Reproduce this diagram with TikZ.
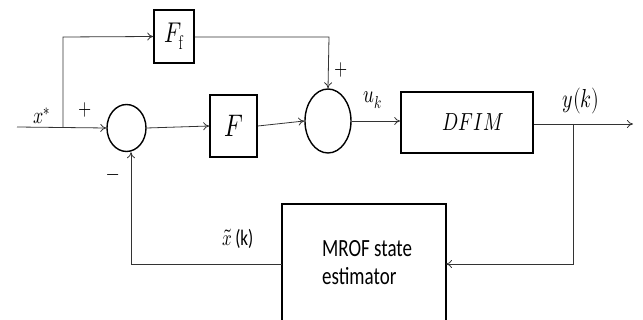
\documentclass[tikz,border=0pt]{standalone}
\usepackage{graphicx}
\usepackage{fontspec}
\usepackage{unicode-math}
\newfontfamily\calib{Carlito}
\usetikzlibrary{arrows.meta,shapes.geometric}
\newcommand{\vstr}[1]{\scalebox{1}[1.3]{#1}}
\begin{document}
\begin{tikzpicture}[x=1pt,y=-1pt,
  blk/.style={draw,line width=1.6pt,inner sep=0pt,minimum width=#1},
  sumnode/.style={draw,ellipse,line width=1.4pt,inner sep=0pt},
  conn/.style={line width=0.8pt,draw=black!80},
  arr/.style={conn,-{To[length=6pt,width=8pt]}},
  lbl/.style={inner sep=0pt}]
\useasboundingbox (0,0) rectangle (643,320);
% blocks
\node[blk=40pt,minimum height=53pt] (Ff) at (174,36.5) {\vstr{\fontsize{22}{22}\selectfont$F_{\mathrm{f}}$}};
\node[blk=47pt,minimum height=62pt] (F) at (233.5,126) {\vstr{\fontsize{24}{24}\selectfont$F$}};
\node[blk=132pt,minimum height=61pt] (D) at (467,122.5) {\hspace*{12pt}\vstr{\fontsize{19}{19}\selectfont$DFIM$}};
\draw[line width=1.6pt] (282,330) -- (282,204) -- (446,204) -- (446,330);
\coordinate (Ewest) at (282,264);
\coordinate (Eeast) at (446,264);
\node[inner sep=0pt,anchor=north west] (Etext) at (322,237) {\vstr{\calib\fontsize{19}{21.5}\selectfont\begin{tabular}{@{}l@{}}MROF state\\estimator\end{tabular}}};
% sums
\node[sumnode,minimum width=39pt,minimum height=47pt] (S1) at (126.5,128) {};
\node[sumnode,minimum width=46pt,minimum height=64pt] (S2) at (328,121) {};
% coordinates
\coordinate (in) at (17,127);
\coordinate (b1) at (63,127);
\coordinate (b1u) at (63,37);
\coordinate (c2) at (329,37);
\coordinate (out) at (633,124);
\coordinate (b2) at (573,124);
\coordinate (b2d) at (573,264);
\coordinate (fbk) at (131,264);
% connectors
\draw[arr] (in) -- (S1.west);
\draw[arr] (b1) -- (b1u) -- (Ff.west);
\draw[arr] (Ff.east |- b1u) -- (c2) -- (S2.north);
\draw[arr] (S1.east) -- (F.west);
\draw[arr] (F.east) -- (S2.west);
\draw[arr] (S2.east) -- (S2.east -| D.west);
\draw[arr] (D.east |- out) -- (out);
\draw[arr] (b2) -- (b2d) -- (Eeast);
\draw[arr] (Ewest) -- (fbk) -- (fbk |- S1.south);
% labels
\node[lbl] (lx) at (42,116) {\vstr{\fontsize{18}{18}\selectfont$x^{*}$}};
\node[lbl] (lp1) at (85,110) {\vstr{\fontsize{17}{17}\selectfont$+$}};
\node[lbl] (lp2) at (341,70) {\vstr{\fontsize{17}{17}\selectfont$+$}};
\node[lbl] (lm) at (113,178) {\vstr{\fontsize{17}{17}\selectfont$-$}};
\node[lbl] (lu) at (373,100) {\vstr{\fontsize{19}{19}\selectfont$u_k$}};
\node[lbl] (ly) at (581,101) {\vstr{\fontsize{20}{20}\selectfont$y(k)$}};
\node[lbl] (lxt) at (238,239) {\vstr{\fontsize{17}{17}\selectfont$\tilde{x}$\,{\calib(k)}}};
\end{tikzpicture}
\end{document}
